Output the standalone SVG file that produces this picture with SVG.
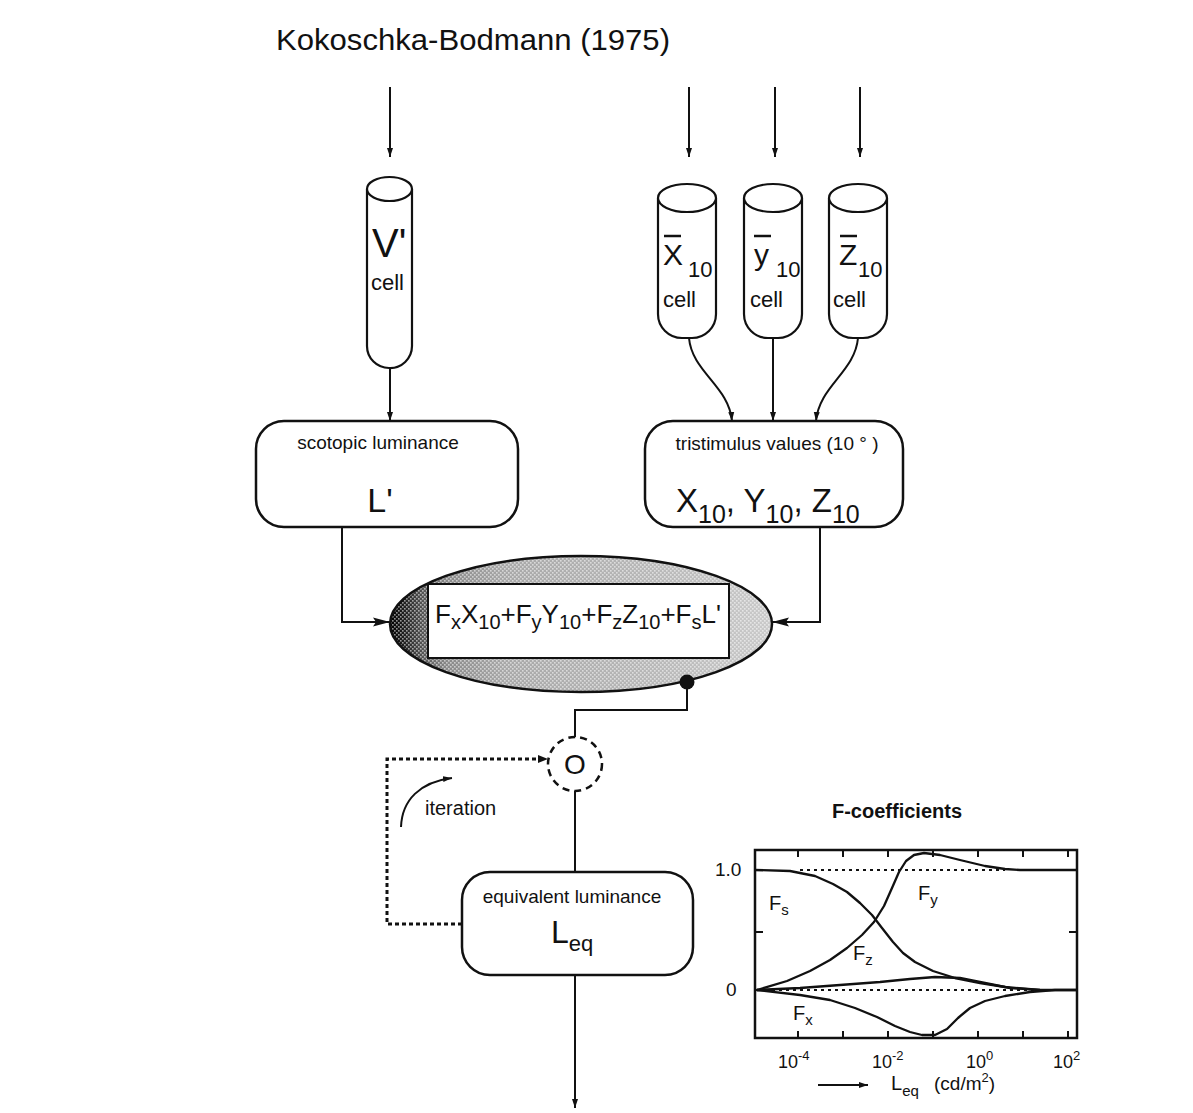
<svg xmlns="http://www.w3.org/2000/svg" width="1193" height="1113" viewBox="0 0 1193 1113">
<style>
text{font-family:"Liberation Sans",Arial,sans-serif;fill:#111}
.ln{fill:none;stroke:#111;stroke-width:2}
.bx{fill:#fff;stroke:#111;stroke-width:2.5}
.cy{fill:#fff;stroke:#111;stroke-width:2.2}
.dot{fill:none;stroke:#111;stroke-width:3;stroke-dasharray:4 3}
.cv{fill:none;stroke:#111;stroke-width:2.3;stroke-linejoin:round}
.dl{fill:none;stroke:#111;stroke-width:2.2;stroke-dasharray:3 4}
</style>
<defs>
<marker id="aS" markerUnits="userSpaceOnUse" markerWidth="10" markerHeight="8" refX="9" refY="4" orient="auto"><path d="M0,1 L9,4 L0,7 Z" fill="#111"/></marker>
<marker id="aB" markerUnits="userSpaceOnUse" markerWidth="18" markerHeight="12" refX="17" refY="6" orient="auto"><path d="M0,1.5 L17,6 L0,10.5 L3,6 Z" fill="#111"/></marker>
<linearGradient id="eg" x1="0" y1="0" x2="1" y2="0">
<stop offset="0" stop-color="#000"/><stop offset="0.04" stop-color="#222"/><stop offset="0.09" stop-color="#5a5a5a"/><stop offset="0.15" stop-color="#8a8a8a"/><stop offset="0.3" stop-color="#a8a8a8"/><stop offset="0.7" stop-color="#b8b8b8"/><stop offset="1" stop-color="#cacaca"/>
</linearGradient>
<pattern id="st" width="4" height="4" patternUnits="userSpaceOnUse"><rect x="0" y="0" width="1.6" height="1.6" fill="#fff" opacity="0.55"/><rect x="2" y="2" width="1.6" height="1.6" fill="#fff" opacity="0.55"/></pattern>
</defs>
<rect width="1193" height="1113" fill="#fff"/>

<g id="title"><text x="276" y="50" font-size="29" textLength="394" lengthAdjust="spacingAndGlyphs">Kokoschka-Bodmann (1975)</text></g>

<g id="cyl-v">
<path class="cy" d="M367,189 L367,346 A22,22 0 0 0 389,368 A22,22 0 0 0 412,346 L412,189"/>
<ellipse class="cy" cx="389.5" cy="189" rx="22.5" ry="12"/>
<text x="372" y="257" font-size="40">V'</text>
<text x="371" y="290" font-size="22">cell</text>
</g>
<g id="cyl-x">
<path class="cy" d="M658,198 L658,314 A24,24 0 0 0 682,338 L692,338 A24,24 0 0 0 716,314 L716,198"/>
<ellipse class="cy" cx="687" cy="198" rx="29" ry="14"/>
<line x1="664" y1="236" x2="681" y2="236" stroke="#111" stroke-width="2.5"/>
<text x="663" y="265" font-size="30">X</text>
<text x="688" y="277" font-size="22">10</text>
<text x="663" y="307" font-size="22">cell</text>
</g>
<g id="cyl-y">
<path class="cy" d="M744,198 L744,314 A24,24 0 0 0 768,338 L778,338 A24,24 0 0 0 802,314 L802,198"/>
<ellipse class="cy" cx="773" cy="198" rx="29" ry="14"/>
<line x1="754" y1="236" x2="771" y2="236" stroke="#111" stroke-width="2.5"/>
<text x="754" y="265" font-size="30">y</text>
<text x="776" y="277" font-size="22">10</text>
<text x="750" y="307" font-size="22">cell</text>
</g>
<g id="cyl-z">
<path class="cy" d="M829,198 L829,314 A24,24 0 0 0 853,338 L863,338 A24,24 0 0 0 887,314 L887,198"/>
<ellipse class="cy" cx="858" cy="198" rx="29" ry="14"/>
<line x1="840" y1="236" x2="857" y2="236" stroke="#111" stroke-width="2.5"/>
<text x="839" y="265" font-size="30">Z</text>
<text x="858" y="277" font-size="22">10</text>
<text x="833" y="307" font-size="22">cell</text>
</g>

<g id="scotopic">
<rect class="bx" x="256" y="421" width="262" height="106" rx="28"/>
<text x="378" y="449" font-size="19" text-anchor="middle">scotopic luminance</text>
<text x="380" y="512" font-size="34" text-anchor="middle">L'</text>
</g>
<g id="tristimulus">
<rect class="bx" x="645" y="421" width="258" height="106" rx="28"/>
<text x="777" y="450" font-size="19" text-anchor="middle">tristimulus values (10 ° )</text>
<text x="676" y="512" font-size="33">X<tspan font-size="25" dy="11">10</tspan><tspan dy="-11">, Y</tspan><tspan font-size="25" dy="11">10</tspan><tspan dy="-11">, Z</tspan><tspan font-size="25" dy="11">10</tspan></text>
</g>

<g id="formula">
<ellipse cx="581" cy="624" rx="191" ry="68" fill="url(#eg)" stroke="none"/>
<ellipse cx="581" cy="624" rx="191" ry="68" fill="url(#st)" stroke="#111" stroke-width="2.5"/>
<rect x="428" y="584" width="301" height="74" fill="#fff" stroke="#111" stroke-width="2"/>
<text x="578" y="623" font-size="26" text-anchor="middle">F<tspan font-size="20" dy="6">x</tspan><tspan dy="-6">X</tspan><tspan font-size="20" dy="6">10</tspan><tspan dy="-6">+F</tspan><tspan font-size="20" dy="6">y</tspan><tspan dy="-6">Y</tspan><tspan font-size="20" dy="6">10</tspan><tspan dy="-6">+F</tspan><tspan font-size="20" dy="6">z</tspan><tspan dy="-6">Z</tspan><tspan font-size="20" dy="6">10</tspan><tspan dy="-6">+F</tspan><tspan font-size="20" dy="6">s</tspan><tspan dy="-6">L'</tspan></text>
<circle cx="687" cy="682" r="7.5" fill="#111"/>
</g>

<g id="compare">
<circle cx="575" cy="764" r="27" fill="#fff" stroke="#111" stroke-width="2.5" stroke-dasharray="7 5"/>
<text x="575" y="774" font-size="28" text-anchor="middle">O</text>
</g>

<g id="equivalent">
<rect class="bx" x="462" y="872" width="231" height="103" rx="28"/>
<text x="572" y="903" font-size="19" text-anchor="middle">equivalent luminance</text>
<text x="551" y="943" font-size="32">L<tspan font-size="22" dy="8">eq</tspan></text>
</g>

<g id="iteration">
<path class="ln" d="M401,827 C402,800 420,782 452,778" stroke-width="2.5" marker-end="url(#aS)"/>
<text x="425" y="815" font-size="20">iteration</text>
</g>

<g id="connectors">
<line class="ln" x1="390" y1="87" x2="390" y2="157" marker-end="url(#aS)"/>
<line class="ln" x1="689" y1="87" x2="689" y2="157" marker-end="url(#aS)"/>
<line class="ln" x1="775" y1="87" x2="775" y2="157" marker-end="url(#aS)"/>
<line class="ln" x1="860" y1="87" x2="860" y2="157" marker-end="url(#aS)"/>
<line class="ln" x1="390" y1="368" x2="390" y2="421" marker-end="url(#aS)"/>
<path class="ln" d="M689,338 C692,372 729,386 732,421" marker-end="url(#aS)"/>
<line class="ln" x1="773" y1="338" x2="773" y2="421" marker-end="url(#aS)"/>
<path class="ln" d="M858,338 C855,372 819,386 816,421" marker-end="url(#aS)"/>
<path class="ln" d="M342,527 L342,622 L390,622" stroke-width="2.3" marker-end="url(#aB)"/>
<path class="ln" d="M820,527 L820,622 L772,622" stroke-width="2.3" marker-end="url(#aB)"/>
<path class="ln" d="M687,682 L687,710 L575,710 L575,737" stroke-width="2.3"/>
<line class="ln" x1="575" y1="791" x2="575" y2="872" stroke-width="2.3"/>
<path class="dot" d="M462,924 L387,924 L387,759 L540,759"/>
<path d="M538,755 L548,759 L538,763 Z" fill="#111"/>
<line class="ln" x1="575" y1="975" x2="575" y2="1108" stroke-width="2.3" marker-end="url(#aS)"/>
</g>

<g id="chart">
<text x="897" y="818" font-size="20" text-anchor="middle" font-weight="bold">F-coefficients</text>
<rect x="755" y="850" width="322" height="188" fill="none" stroke="#111" stroke-width="2.5"/>
<g stroke="#111" stroke-width="2">
<line x1="755" y1="932" x2="763" y2="932"/><line x1="1069" y1="932" x2="1077" y2="932"/>
<line x1="1069" y1="870" x2="1077" y2="870"/><line x1="1069" y1="990" x2="1077" y2="990"/>
<line x1="798" y1="850" x2="798" y2="857"/><line x1="843" y1="850" x2="843" y2="857"/><line x1="888" y1="850" x2="888" y2="857"/><line x1="933" y1="850" x2="933" y2="857"/><line x1="978" y1="850" x2="978" y2="857"/><line x1="1023" y1="850" x2="1023" y2="857"/><line x1="1068" y1="850" x2="1068" y2="857"/>
<line x1="798" y1="1031" x2="798" y2="1038"/><line x1="843" y1="1031" x2="843" y2="1038"/><line x1="888" y1="1031" x2="888" y2="1038"/><line x1="933" y1="1031" x2="933" y2="1038"/><line x1="978" y1="1031" x2="978" y2="1038"/><line x1="1023" y1="1031" x2="1023" y2="1038"/><line x1="1068" y1="1031" x2="1068" y2="1038"/>
</g>
<line class="dl" x1="800" y1="870" x2="1005" y2="870"/>
<line class="dl" x1="772" y1="990" x2="1040" y2="990"/>
<line class="cv" x1="755" y1="990" x2="772" y2="990"/>
<line class="cv" x1="1040" y1="990" x2="1077" y2="990"/>
<polyline class="cv" points="755,870 790,871 815,876 833,884 847,892 860,903 872,915 882,928 893,942 903,953 915,962 933,971 955,978 980,983 1005,987 1040,990"/>
<polyline class="cv" points="757,990 787,981 810,971 830,960 847,948 862,935 874,922 884,906 892,888 899,872 906,861 914,855 924,853 940,855 960,860 985,866 1005,869 1020,870 1077,870"/>
<polyline class="cv" points="757,990 800,988 840,985 880,982 910,979 935,977 960,978 985,983 1010,988 1040,990"/>
<polyline class="cv" points="757,990 800,995 830,1000 855,1008 877,1017 895,1026 910,1032 922,1035 935,1035 947,1029 958,1018 970,1008 985,1001 1005,996 1030,992 1055,990 1077,990"/>
<text x="715" y="876" font-size="19">1.0</text>
<text x="726" y="996" font-size="19">0</text>
<text x="769" y="910" font-size="20">F<tspan font-size="15" dy="5">s</tspan></text>
<text x="918" y="900" font-size="20">F<tspan font-size="15" dy="5">y</tspan></text>
<text x="853" y="960" font-size="20">F<tspan font-size="15" dy="5">z</tspan></text>
<text x="793" y="1020" font-size="20">F<tspan font-size="15" dy="5">x</tspan></text>
<text x="778" y="1068" font-size="18">10<tspan font-size="13" dy="-8">-4</tspan></text>
<text x="872" y="1068" font-size="18">10<tspan font-size="13" dy="-8">-2</tspan></text>
<text x="966" y="1068" font-size="18">10<tspan font-size="13" dy="-8">0</tspan></text>
<text x="1053" y="1068" font-size="18">10<tspan font-size="13" dy="-8">2</tspan></text>
<line class="ln" x1="818" y1="1085" x2="868" y2="1085" marker-end="url(#aS)"/>
<text x="891" y="1090" font-size="20">L<tspan font-size="15" dy="6">eq</tspan></text>
<text x="934" y="1090" font-size="19">(cd/m<tspan font-size="13" dy="-8">2</tspan><tspan dy="8">)</tspan></text>
</g>
</svg>
